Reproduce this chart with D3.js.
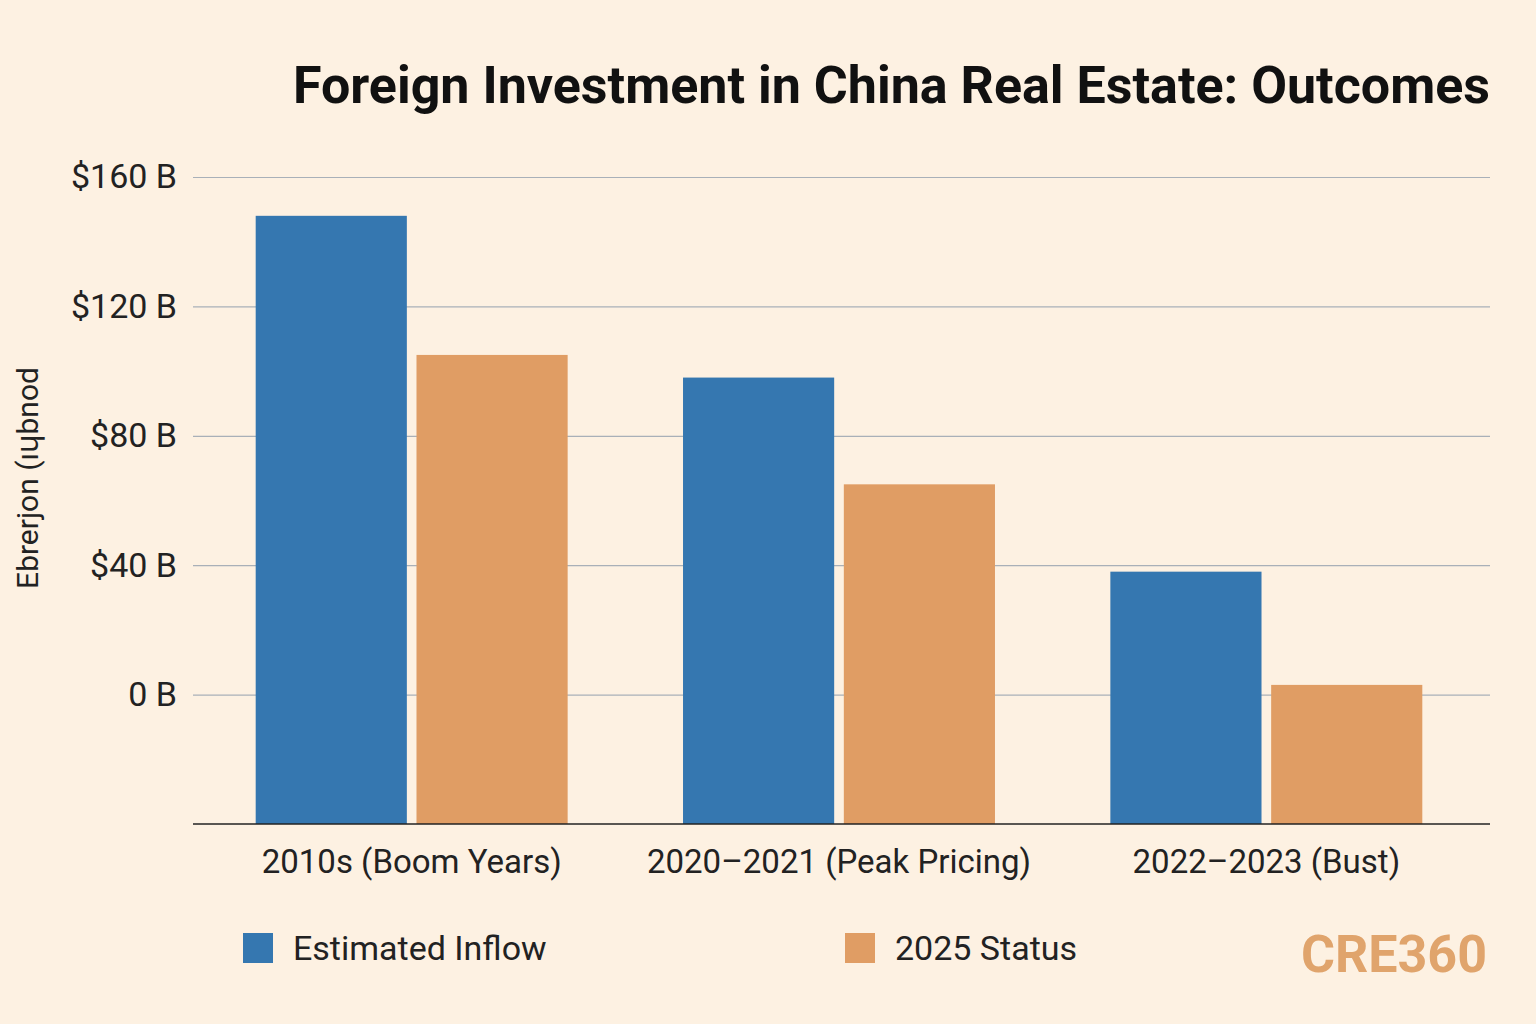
<!DOCTYPE html>
<html><head><meta charset="utf-8">
<script src="https://cdn.jsdelivr.net/npm/d3@7"></script>
<style>body{margin:0;background:#fdf1e2}</style></head>
<body><svg id="c" width="1536" height="1024"></svg>
<script>
const categories=["2010s (Boom Years)","2020\u20132021 (Peak Pricing)","2022\u20132023 (Bust)"];
const seriesNames=["Estimated Inflow","2025 Status"];
const inflow=[148,98,38];
const status2025=[105,65,3];
const tickValues=[0,40,80,120,160];
const tickLabels=["0 B","$40 B","$80 B","$120 B","$160 B"];
const colors=["#3577b0","#e09d64"];
const svg=d3.select("#c");
svg.append("rect").attr("width",1536).attr("height",1024).attr("fill","#fdf1e2");
const font="Roboto, 'Noto Sans', sans-serif";
const y=d3.scaleLinear().domain([-40,160]).range([824,177]);
const x0=d3.scaleBand().domain(categories).range([198,1480]).paddingInner(0.27).paddingOuter(0.135);
const x1=d3.scaleBand().domain(seriesNames).range([0,x0.bandwidth()]).paddingInner(0.06);
svg.append("text").attr("x",1490).attr("y",103).attr("text-anchor","end").attr("font-family",font).attr("font-weight","bold").attr("font-size",52).attr("fill","#111").text("Foreign Investment in China Real Estate: Outcomes");
const ya=svg.append("g").attr("transform","translate(193,0)").call(d3.axisLeft(y).tickValues(tickValues).tickFormat((d,i)=>tickLabels[i]).tickSize(-1297).tickPadding(16));
ya.select(".domain").remove();
ya.selectAll("line").attr("stroke","#a9b0b8").attr("stroke-width",1.2);
ya.selectAll("text").attr("font-family",font).attr("font-size",34).attr("fill","#222");
const data=categories.map((c,i)=>({c,v:[inflow[i],status2025[i]]}));
svg.append("g").selectAll("g").data(data).join("g").attr("transform",d=>`translate(${x0(d.c)},0)`)
 .selectAll("rect").data(d=>d.v.map((v,j)=>({v,s:seriesNames[j],j}))).join("rect")
 .attr("x",d=>x1(d.s)).attr("width",x1.bandwidth()).attr("y",d=>y(d.v)).attr("height",d=>y(-40)-y(d.v)).attr("fill",d=>colors[d.j]);
const xa=svg.append("g").attr("transform","translate(0,824)").call(d3.axisBottom(x0).tickSize(0).tickPadding(26));
xa.select(".domain").attr("d","M193,0H1490").attr("stroke","#222").attr("stroke-width",1.5);
xa.selectAll("text").attr("font-family",font).attr("font-size",33).attr("fill","#222");
svg.append("text").attr("transform","translate(38,478) rotate(-90)").attr("text-anchor","middle").attr("font-family",font).attr("font-size",30).attr("fill","#222").text("Ebrerjon  (ı\u0265bnod");
const lx=[243,845];
seriesNames.forEach((s,i)=>{
 svg.append("rect").attr("x",lx[i]).attr("y",933).attr("width",30).attr("height",30).attr("fill",colors[i]);
 svg.append("text").attr("x",lx[i]+50).attr("y",960).attr("font-family",font).attr("font-size",34).attr("fill","#222").text(s);
});
svg.append("text").attr("x",1487).attr("y",972).attr("text-anchor","end").attr("font-family",font).attr("font-weight","bold").attr("font-size",52).attr("fill","#e0a46c").text("CRE360");
</script></body></html>
